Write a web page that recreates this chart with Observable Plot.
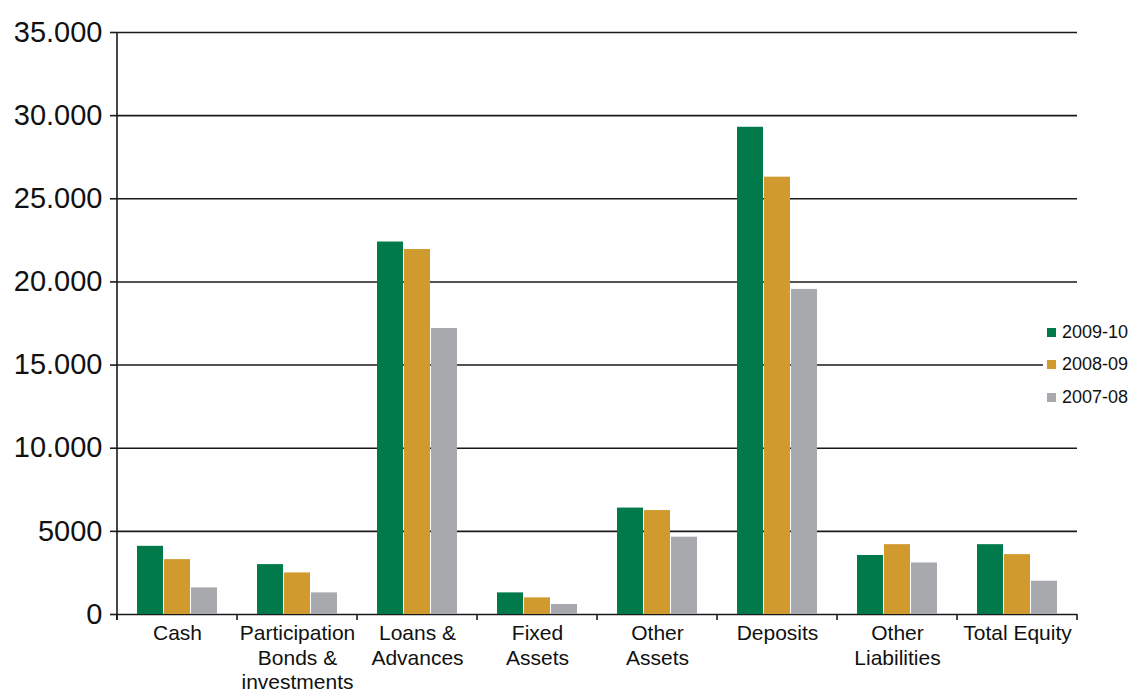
<!DOCTYPE html>
<html><head><meta charset="utf-8">
<script src="https://cdn.jsdelivr.net/npm/d3@7"></script>
<script src="https://cdn.jsdelivr.net/npm/@observablehq/plot@0.6"></script>
<style>
body{margin:0;background:#fff;font-family:"Liberation Sans",Arial,sans-serif;}
#wrap{position:relative;width:1140px;height:690px;}
#legend{position:absolute;left:1043px;top:316px;padding-left:4px;padding-right:6px;font-size:18px;color:#111;background:#fff;}
.row{display:flex;align-items:center;height:32.5px;}
.sw{width:9px;height:9px;margin-right:6px;}
</style></head><body><div id="wrap"><div id="legend"></div></div>
<script>
const categories = ["Cash","Participation\nBonds &\ninvestments","Loans &\nAdvances","Fixed\nAssets","Other\nAssets","Deposits","Other\nLiabilities","Total Equity"];
const years = ["2009-10","2008-09","2007-08"];
const values2009_10 = [4100,3000,22400,1300,6400,29300,3550,4200];
const values2008_09 = [3300,2500,21950,1000,6250,26300,4200,3600];
const values2007_08 = [1600,1300,17200,600,4650,19550,3100,2000];
const colors = ["#007a4b","#d09a2f","#a8a9ac"];
const yTicks = [0,5000,10000,15000,20000,25000,30000,35000];
const yTickLabels = ["0","5000","10.000","15.000","20.000","25.000","30.000","35.000"];

const series = [values2009_10, values2008_09, values2007_08];
const data = [];
categories.forEach((c, i) => years.forEach((yr, j) => data.push({category: c, year: yr, value: series[j][i]})));

const chart = Plot.plot({
  width: 1140, height: 690,
  marginLeft: 115, marginRight: 62, marginTop: 32, marginBottom: 76,
  style: {fontFamily: "'Liberation Sans', Arial, sans-serif", background: "#fff", color: "#111"},
  fx: {domain: categories, padding: 0, label: null},
  x: {domain: years, paddingInner: 0.05, paddingOuter: 0.73, axis: null},
  y: {domain: [0, 35000], label: null},
  color: {domain: years, range: colors},
  marks: [
    Plot.gridY(yTicks, {stroke: "#1a1a1a", strokeOpacity: 1, strokeWidth: 1.6}),
    Plot.barY(data, {fx: "category", x: "year", y: "value", fill: "year"}),
    Plot.axisY(yTicks, {tickFormat: d => yTickLabels[yTicks.indexOf(d)], fontSize: 29, tickSize: 7, tickPadding: 8, stroke: "#1a1a1a", strokeWidth: 1.6, fill: "#111", label: null}),
    Plot.axisFx({tickSize: 0, tickPadding: 8, fontSize: 21, lineHeight: 1.17, anchor: "bottom", label: null, fill: "#111"})
  ]
});

document.getElementById("wrap").appendChild(chart);

// axis line and category boundary ticks, positioned from the library's scales
const svg = d3.select(chart);
const fx = chart.scale("fx");
const y = chart.scale("y");
const bw = fx.bandwidth;
const bounds = categories.map(c => fx.apply(c)).concat([fx.apply(categories[categories.length - 1]) + bw]);
const g = svg.append("g").attr("stroke", "#1a1a1a").attr("stroke-width", 1.6);
g.append("line").attr("x1", bounds[0]).attr("x2", bounds[0]).attr("y1", y.apply(35000)).attr("y2", y.apply(0) + 6);
bounds.forEach(b => g.append("line").attr("x1", b).attr("x2", b).attr("y1", y.apply(0)).attr("y2", y.apply(0) + 6));

const legend = d3.select("#legend");
years.forEach((yr, j) => {
  const row = legend.append("div").attr("class", "row");
  row.append("div").attr("class", "sw").style("background", colors[j]);
  row.append("span").text(yr);
});
</script></body></html>
